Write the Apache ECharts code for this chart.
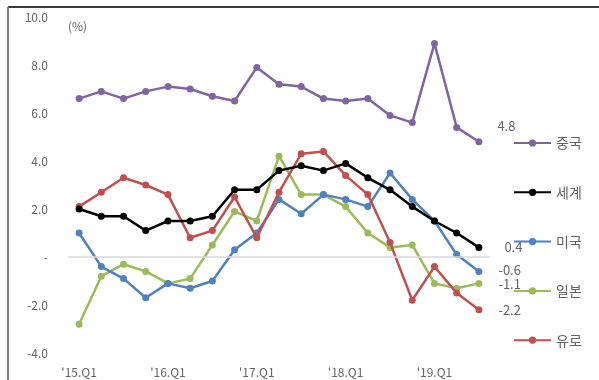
<!DOCTYPE html>
<html>
<head>
<meta charset="utf-8">
<script src="https://cdn.jsdelivr.net/npm/echarts@6/dist/echarts.min.js"></script>
<style>
  html, body { margin: 0; padding: 0; background: #fff; }
  #chart { width: 599px; height: 380px; }
</style>
</head>
<body>
<div id="chart"></div>
<script>
// Quarterly labels, 2015 Q1 – 2019 Q3
const categories = [
  "'15.Q1", "'15.Q2", "'15.Q3", "'15.Q4",
  "'16.Q1", "'16.Q2", "'16.Q3", "'16.Q4",
  "'17.Q1", "'17.Q2", "'17.Q3", "'17.Q4",
  "'18.Q1", "'18.Q2", "'18.Q3", "'18.Q4",
  "'19.Q1", "'19.Q2", "'19.Q3"
];

// Year-on-year growth (%)
const china = [6.6, 6.9, 6.6, 6.9, 7.1, 7.0, 6.7, 6.5, 7.9, 7.2, 7.1, 6.6, 6.5, 6.6, 5.9, 5.6, 8.9, 5.4, 4.8];
const world = [2.0, 1.7, 1.7, 1.1, 1.5, 1.5, 1.7, 2.8, 2.8, 3.6, 3.8, 3.6, 3.9, 3.3, 2.8, 2.1, 1.5, 1.0, 0.4];
const usa   = [1.0, -0.4, -0.9, -1.7, -1.1, -1.3, -1.0, 0.3, 1.0, 2.4, 1.8, 2.6, 2.4, 2.1, 3.5, 2.4, 1.5, 0.1, -0.6];
const japan = [-2.8, -0.8, -0.3, -0.6, -1.1, -0.9, 0.5, 1.9, 1.5, 4.2, 2.6, 2.6, 2.1, 1.0, 0.4, 0.5, -1.1, -1.3, -1.1];
const euro  = [2.1, 2.7, 3.3, 3.0, 2.6, 0.8, 1.1, 2.5, 0.8, 2.7, 4.3, 4.4, 3.4, 2.6, 0.6, -1.8, -0.4, -1.5, -2.2];

const names = ['중국', '세계', '미국', '일본', '유로'];
const yTicks = { min: -4, max: 10, interval: 2 };

const FONT = '"Noto Sans CJK KR", "Noto Sans", sans-serif';
const GREY = '#636363';

// Only the latest quarter carries a value label
function withEndLabel(values, dx, dy) {
  const last = values.length - 1;
  return values.map((v, i) => i === last
    ? { value: v, label: { show: true, position: 'right', distance: 0, offset: [dx, dy],
        formatter: (p) => p.value.toFixed(1), color: GREY, fontSize: 13, fontFamily: FONT } }
    : v);
}

function lineSeries(name, values, color, dx, dy, z) {
  return {
    name: name,
    type: 'line',
    data: withEndLabel(values, dx, dy),
    symbol: 'circle',
    symbolSize: 7,
    z: z,
    lineStyle: { color: color, width: 2.5 },
    itemStyle: { color: color },
    emphasis: { disabled: true },
    animation: false
  };
}

const chart = echarts.init(document.getElementById('chart'));

const series = [
  lineSeries(names[3], japan, '#9BBB59', 16, 1, 2),
  lineSeries(names[2], usa, '#4F81BD', 16, -1, 3),
  lineSeries(names[4], euro, '#C0504D', 16, 0, 4),
  lineSeries(names[1], world, '#000000', 22, 0, 5),
  lineSeries(names[0], china, '#8064A2', 15, -16, 6)
];

// Zero reference line across the plot
series[0].markLine = {
  silent: true,
  symbol: 'none',
  label: { show: false },
  lineStyle: { color: '#d9d9d9', width: 1.5, type: 'solid' },
  data: [{ yAxis: 0 }],
  animation: false
};

chart.setOption({
  backgroundColor: '#ffffff',
  animation: false,
  grid: { left: 68, top: 17, width: 422, height: 336 },
  xAxis: {
    type: 'category',
    data: categories,
    boundaryGap: true,
    axisLine: { show: false },
    axisTick: { show: false },
    axisLabel: { interval: 3, color: GREY, fontSize: 12, fontFamily: FONT, margin: 13 },
    splitLine: { show: false }
  },
  yAxis: {
    type: 'value',
    min: yTicks.min,
    max: yTicks.max,
    interval: yTicks.interval,
    axisLine: { show: false },
    axisTick: { show: false },
    splitLine: { show: false },
    axisLabel: {
      color: GREY, fontSize: 12, fontFamily: FONT, margin: 20,
      formatter: (v) => v === 0 ? '-' : v.toFixed(1)
    }
  },
  legend: {
    data: names,
    orient: 'vertical',
    left: 513,
    top: 136,
    padding: 0,
    itemWidth: 37,
    itemHeight: 9,
    itemGap: 35.3,
    textStyle: { color: GREY, fontSize: 14, fontFamily: FONT },
    selectedMode: false
  },
  graphic: [
    { type: 'line', shape: { x1: 8, y1: 7, x2: 599, y2: 7 }, style: { stroke: '#3a3a3a', lineWidth: 2 }, silent: true },
    { type: 'line', shape: { x1: 8, y1: 7, x2: 8, y2: 380 }, style: { stroke: '#7f7f7f', lineWidth: 2 }, silent: true },
    { type: 'text', left: 68, top: 20, style: { text: '(%)', fill: GREY, fontSize: 12, fontFamily: FONT }, silent: true }
  ],
  series: series
});
</script>
</body>
</html>
